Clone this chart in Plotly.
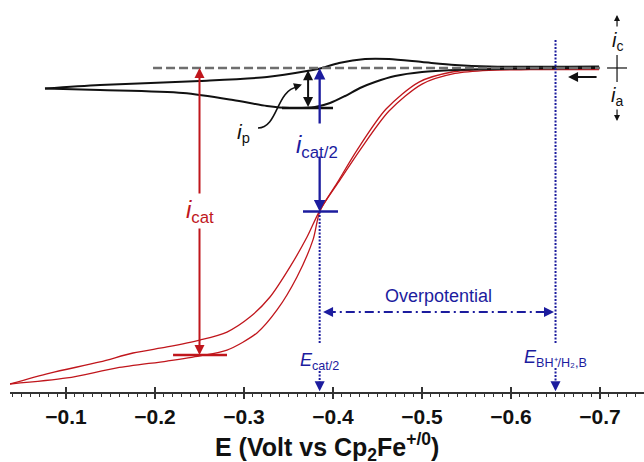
import plotly.graph_objects as go

# ---------------- data (E in V vs Cp2Fe+/0, current normalised to i_cat) -------------
# catalytic (red) CV, branch 1 (outer on the left side)
red_E1 = [-0.0371, -0.082, -0.1382, -0.1753, -0.2135, -0.2506, -0.2809, -0.3067, -0.3292,
          -0.3517, -0.3708, -0.3854, -0.4079, -0.4303, -0.4629, -0.5000, -0.5371, -0.5753,
          -0.6214, -0.6989]
red_I1 = [-1.101, -1.063, -1.024, -0.993, -0.972, -0.948, -0.920, -0.868, -0.798,
          -0.693, -0.589, -0.495, -0.390, -0.286, -0.150, -0.056, -0.019, -0.008,
          -0.006, -0.006]
# catalytic (red) CV, branch 2
red_E2 = [-0.0371, -0.1011, -0.1573, -0.2135, -0.2506, -0.2809, -0.3146, -0.3371, -0.3595,
          -0.3775, -0.3854, -0.4045, -0.4270, -0.4596, -0.4966, -0.5337, -0.5753, -0.6214,
          -0.6989]
red_I2 = [-1.101, -1.080, -1.045, -1.021, -1.003, -0.983, -0.923, -0.843, -0.728,
          -0.599, -0.498, -0.401, -0.286, -0.143, -0.049, -0.014, -0.004, -0.002,
          -0.002]
# non-catalytic (black) CV, upper branch
blk_E1 = [-0.0764, -0.1382, -0.2506, -0.3258, -0.3708, -0.3877, -0.4068, -0.4360, -0.4629,
          -0.5000, -0.5371, -0.5753, -0.6989]
blk_I1 = [-0.0714, -0.0592, -0.0453, -0.0314, -0.0105, 0.0, 0.0174, 0.0314, 0.0314,
          0.0209, 0.0105, 0.0052, 0.0052]
# non-catalytic (black) CV, lower branch
blk_E2 = [-0.0764, -0.1382, -0.2315, -0.2877, -0.3258, -0.3517, -0.3798, -0.3967, -0.4135,
          -0.4303, -0.4472, -0.4697, -0.5000, -0.5371, -0.6214, -0.6989]
blk_I2 = [-0.0714, -0.0767, -0.0871, -0.1115, -0.1324, -0.1394, -0.1359, -0.1220, -0.0976,
          -0.0697, -0.0488, -0.0279, -0.0139, -0.0070, -0.0017, 0.0]
# baseline
base_E = [-0.1978, -0.7000]
base_I = [0.0, 0.0]

# key values
E_ICAT = -0.25      # where i_cat is measured
I_CAT = -1.0
E_HALF = -0.385     # E_cat/2
I_HALF = -0.5
E_EQ = -0.65        # E_BH+/H2,B
E_IP = -0.372
I_P = -0.139

X_RANGE = [-0.0371, -0.7494]
Y_RANGE = [-1.1289, 0.2369]

RED = "#c0161c"
BLUE = "#1c1c9e"
BLK = "#111111"
GRAY = "#6e6e6e"
FONT = "Liberation Sans, Arial, Helvetica, sans-serif"

fig = go.Figure()
fig.add_trace(go.Scatter(x=base_E, y=base_I, xaxis="x2", mode="lines",
                         line=dict(color=GRAY, width=2.5, dash="9px,4px"), hoverinfo="skip"))
for ex, iy in ((red_E1, red_I1), (red_E2, red_I2)):
    fig.add_trace(go.Scatter(x=ex, y=iy, mode="lines",
                             line=dict(color=RED, width=1.3, shape="spline", smoothing=0.8)))
for ex, iy in ((blk_E1, blk_I1), (blk_E2, blk_I2)):
    fig.add_trace(go.Scatter(x=ex, y=iy, mode="lines",
                             line=dict(color=BLK, width=2, shape="spline", smoothing=0.8)))


def arrow(x, y, ax, ay, color, width=2.0, side="end", size=1.0):
    return dict(x=x, y=y, ax=ax, ay=ay, xref="x", yref="y", axref="x", ayref="y",
                text="", font=dict(size=1), showarrow=True, arrowhead=2, arrowsize=size,
                arrowwidth=width, arrowcolor=color, arrowside=side, standoff=0,
                startstandoff=0, startarrowhead=2, startarrowsize=size)


def label(x, y, text, color, size, xanchor="center", yanchor="middle"):
    return dict(x=x, y=y, xref="x", yref="y", text=text, showarrow=False,
                font=dict(family=FONT, size=size, color=color),
                xanchor=xanchor, yanchor=yanchor)


def seg(x0, y0, x1, y1, color, width=2.0, dash="solid"):
    return dict(type="line", xref="x", yref="y", x0=x0, y0=y0, x1=x1, y1=y1,
                line=dict(color=color, width=width, dash=dash))


ann = [
    # i_cat
    arrow(E_ICAT, 0.0, E_ICAT, -0.4425, RED),
    arrow(E_ICAT, I_CAT, E_ICAT, -0.554, RED),
    label(E_ICAT, -0.50, "<i>i</i><sub>cat</sub>", RED, 24),
    # i_cat/2
    arrow(E_HALF, 0.0, E_HALF, -0.1986, BLUE, width=2.3),
    arrow(E_HALF, I_HALF, E_HALF, -0.303, BLUE, width=2.3),
    label(E_HALF + 0.003, -0.272, "<i>i</i><sub>cat/2</sub>", BLUE, 24),
    # i_p
    arrow(E_IP, I_P + 0.003, E_IP, -0.003, BLK, side="end+start"),
    label(-0.2989, -0.2265, "<i>i</i><sub>p</sub>", BLK, 21),
    arrow(-0.3651, -0.0575, -0.3585, -0.0645, BLK, width=1.6),
    # overpotential
    arrow(-0.3888, -0.850, -0.3960, -0.850, BLUE),
    arrow(-0.6483, -0.850, -0.6410, -0.850, BLUE),
    label(-0.518, -0.794, "Overpotential", BLUE, 18),
    # potentials
    label(E_HALF, -1.024, "<i>E</i><sub>cat/2</sub>", BLUE, 18),
    label(E_EQ, -1.012, "<i>E</i><sub>BH⁺/H₂,B</sub>", BLUE, 18),
    arrow(E_HALF, -1.126, E_HALF, -1.105, BLUE),
    arrow(E_EQ, -1.126, E_EQ, -1.105, BLUE),
    # scan direction
    arrow(-0.6641, -0.0314, -0.6978, -0.0314, BLK, width=2),
    # current sign convention
    arrow(-0.7191, 0.185, -0.7191, 0.139, BLK, width=1.2),
    arrow(-0.7191, -0.185, -0.7191, -0.139, BLK, width=1.2),
    label(-0.7191, 0.0906, "<i>i</i><sub>c</sub>", BLK, 20),
    label(-0.7191, -0.0976, "<i>i</i><sub>a</sub>", BLK, 20),
    # axis title
    dict(x=0.5, y=-0.1405, xref="paper", yref="paper", showarrow=False,
         text="<b>E (Volt vs Cp<sub>2</sub>Fe<sup>+/0</sup>)</b>",
         font=dict(family=FONT, size=25, color="#111111"),
         xanchor="center", yanchor="middle"),
]

shapes = [
    seg(-0.2203, I_CAT, -0.2809, I_CAT, RED, 2.5),
    seg(-0.3663, I_HALF, -0.4056, I_HALF, BLUE, 2.5),
    seg(-0.3427, -0.1394, -0.4000, -0.1394, BLK, 2.5),
    seg(E_HALF, I_HALF, E_HALF, -0.958, BLUE, 2, "2px,1.5px"),
    seg(E_EQ, 0.0976, E_EQ, -0.958, BLUE, 2, "2px,1.5px"),
    seg(E_HALF, -1.056, E_HALF, -1.105, BLUE, 2, "2px,1.5px"),
    seg(E_EQ, -1.045, E_EQ, -1.105, BLUE, 2, "2px,1.5px"),
    seg(-0.3930, -0.850, -0.6440, -0.850, BLUE, 2, "9px,4px,2px,4px"),
    seg(-0.7079, 0.0, -0.7303, 0.0, BLK, 1.2),
    seg(-0.7191, 0.0453, -0.7191, -0.0488, BLK, 1.2),
    dict(type="path", xref="x", yref="y",
         path="M -0.3157,-0.2091 C -0.3382,-0.2091 -0.3360,-0.0767 -0.3600,-0.0662",
         line=dict(color=BLK, width=1.6)),
]

axis_common = dict(range=X_RANGE, dtick=0.1, tick0=0, showgrid=False, zeroline=False,
                   tickcolor="#333333", tickwidth=1.5, ticklen=5,
                   minor=dict(dtick=0.01, tick0=0, ticklen=3, tickwidth=1.2,
                              tickcolor="#333333", showgrid=False))

fig.update_layout(
    width=644, height=462,
    margin=dict(l=10, r=0, t=0, b=70),
    paper_bgcolor="white", plot_bgcolor="white",
    showlegend=False,
    xaxis=dict(**axis_common, ticks="outside", showline=True, linecolor="#333333",
               linewidth=1.5, tickformat=".1f",
               tickfont=dict(family=FONT, size=21, color="#111111", weight="bold")),
    xaxis2=dict(**axis_common, ticks="inside", overlaying="x", anchor="y", side="bottom",
                showline=False, showticklabels=False),
    yaxis=dict(range=Y_RANGE, visible=False),
    annotations=ann,
    shapes=shapes,
)
fig.write_html("out.html")
